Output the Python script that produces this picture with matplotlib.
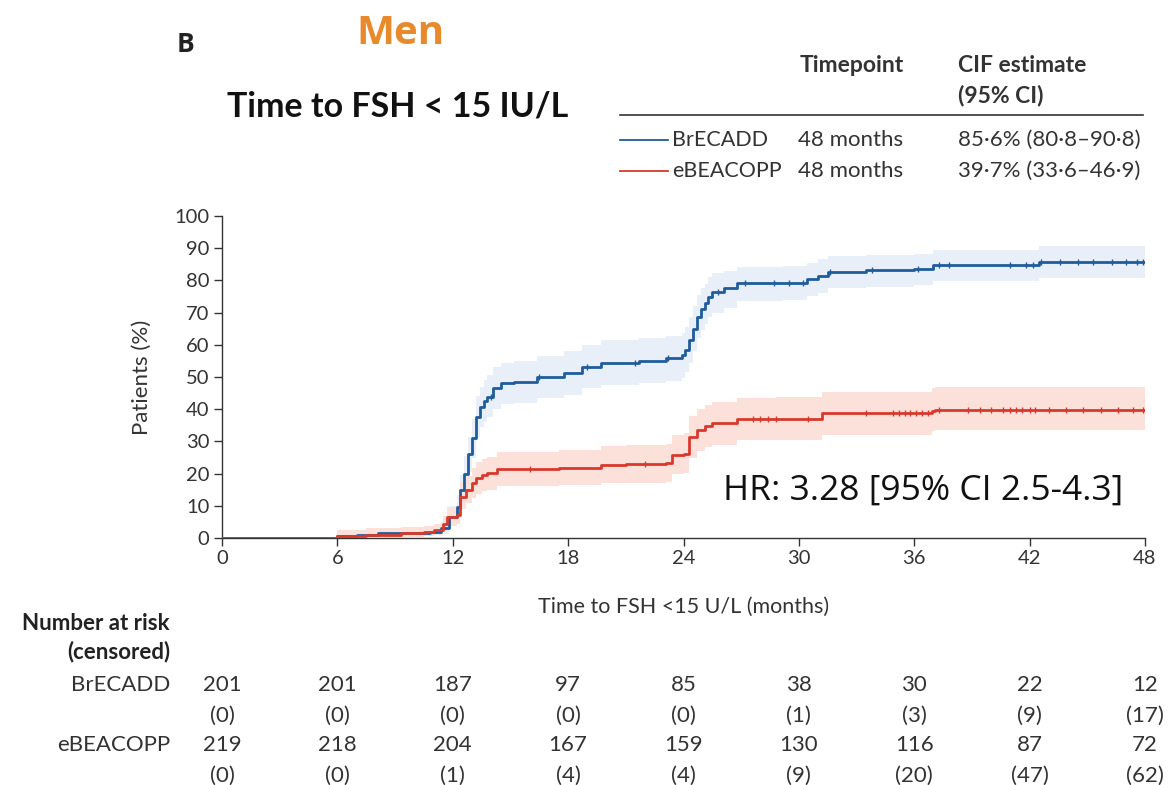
import matplotlib.pyplot as plt
import numpy as np
from matplotlib.lines import Line2D
from matplotlib.transforms import blended_transform_factory

# Cumulative incidence, BrECADD
t_br = [0, 6.0, 7.0, 8.1, 9.5, 10.8, 11.4, 11.8, 12.2, 12.4, 12.6, 12.8, 13.0, 13.2,
        13.4, 13.6, 13.8, 14.1, 14.5, 15.2, 16.4, 17.8, 18.7, 19.7, 21.7, 23.1, 23.9,
        24.1, 24.3, 24.5, 24.7, 24.9, 25.1, 25.3, 25.5, 26.1, 26.8, 29.2, 30.4, 31.0,
        31.5, 33.5, 36.0, 37.0, 42.5, 48.0]
cif_br = [0, 0.5, 1.0, 1.4, 1.7, 2.0, 3.0, 6.6, 9.7, 14.9, 20.0, 26.0, 31.0, 37.7,
          40.8, 42.5, 43.9, 46.5, 48.0, 48.6, 50.1, 51.3, 53.2, 54.5, 55.0, 55.8, 56.8,
          58.5, 61.5, 65.0, 68.7, 71.0, 72.9, 75.0, 76.5, 77.5, 79.1, 79.3, 80.3, 81.5,
          82.7, 83.2, 83.5, 84.8, 85.6, 85.6]
lo_br = [0, 0.0, 0.2, 0.4, 0.6, 0.8, 1.2, 3.8, 6.2, 10.5, 15.0, 20.5, 25.0, 31.5,
         34.5, 36.0, 37.5, 40.0, 41.5, 42.0, 43.5, 44.5, 46.5, 47.5, 48.0, 48.8, 49.8,
         51.5, 54.5, 58.0, 62.0, 64.5, 66.5, 68.5, 70.0, 71.5, 73.5, 74.0, 75.0, 76.0,
         77.5, 78.0, 78.5, 79.8, 80.8, 80.8]
hi_br = [0, 1.5, 2.5, 3.0, 3.4, 3.8, 5.0, 10.0, 13.5, 19.5, 25.5, 31.5, 37.0, 44.0,
         47.0, 49.0, 50.5, 53.0, 54.5, 55.0, 56.5, 58.0, 60.0, 61.5, 62.0, 62.8, 63.8,
         65.5, 68.5, 72.0, 75.5, 77.5, 79.0, 81.0, 82.3, 83.0, 84.3, 84.5, 85.5, 86.5,
         87.5, 88.0, 88.3, 89.5, 90.8, 90.8]
cens_br = [14.0, 16.5, 19.0, 21.5, 23.2, 25.8, 27.2, 28.7, 29.5, 30.2, 31.6, 33.8, 36.2,
           37.3, 37.8, 41.0, 41.8, 42.2, 42.6, 43.6, 44.5, 45.3, 46.3, 47.0, 47.6, 47.9]

# Cumulative incidence, eBEACOPP
t_eb = [0, 6.0, 7.5, 9.3, 10.5, 11.0, 11.5, 11.7, 12.2, 12.4, 12.7, 13.0, 13.2, 13.5,
        13.8, 14.3, 17.5, 19.7, 21.0, 23.1, 23.4, 24.0, 24.3, 24.7, 25.1, 25.5, 26.8,
        28.8, 31.2, 36.9, 37.1, 48.0]
cif_eb = [0, 0.5, 1.0, 1.4, 1.9, 2.4, 4.5, 6.6, 7.1, 12.8, 14.9, 17.0, 18.5, 19.5,
          20.1, 21.3, 21.8, 22.7, 22.9, 23.2, 25.8, 26.2, 31.5, 33.5, 34.8, 35.6, 36.9,
          37.1, 38.7, 39.4, 39.7, 39.7]
lo_eb = [0, 0.0, 0.2, 0.4, 0.7, 1.0, 2.3, 3.8, 4.2, 9.0, 10.8, 12.5, 13.8, 14.6,
         15.0, 16.0, 16.4, 17.0, 17.2, 17.5, 19.8, 20.2, 25.0, 27.0, 28.3, 29.0, 30.3,
         30.5, 32.0, 33.3, 33.6, 33.6]
hi_eb = [0, 2.5, 3.0, 3.3, 3.7, 4.2, 6.8, 9.5, 10.2, 17.0, 19.2, 21.8, 23.5, 24.6,
         25.3, 26.8, 27.3, 28.6, 28.8, 29.2, 32.0, 32.5, 38.0, 40.0, 41.3, 42.2, 43.5,
         43.8, 45.4, 46.6, 46.9, 46.9]
cens_eb = [16.0, 22.0, 27.6, 28.0, 28.4, 28.8, 30.5, 33.5, 34.9, 35.2, 35.5, 35.8, 36.1,
           36.4, 36.7, 37.3, 38.8, 39.4, 40.0, 40.6, 41.0, 41.3, 41.6, 42.0, 42.3, 43.0,
           43.9, 44.8, 45.7, 46.6, 47.4, 47.9]

# Number at risk table
risk_times = [0, 6, 12, 18, 24, 30, 36, 42, 48]
risk_br = [201, 201, 187, 97, 85, 38, 30, 22, 12]
cens_n_br = [0, 0, 0, 0, 0, 1, 3, 9, 17]
risk_eb = [219, 218, 204, 167, 159, 130, 116, 87, 72]
cens_n_eb = [0, 0, 1, 4, 4, 9, 20, 47, 62]

BLUE = "#1f5c9c"
RED = "#d8392c"
TXT = "#333333"
W, H = 1168, 785
FS = 16

plt.rcParams['font.family'] = ['Lato', 'DejaVu Sans']

fig = plt.figure(figsize=(W / 100, H / 100), dpi=100)
ax = fig.add_axes([222 / W, 1 - 538 / H, (1145 - 222) / W, (538 - 216) / H])


def px(x, y):
    return x / W, 1 - y / H


def step_value(ts, vs, x):
    i = np.searchsorted(ts, x, side='right') - 1
    return np.asarray(vs)[i]


for ts, vs, lo, hi, cens, col, band in [
        (t_br, cif_br, lo_br, hi_br, cens_br, BLUE, "#e9eff9"),
        (t_eb, cif_eb, lo_eb, hi_eb, cens_eb, RED, "#fbe1d9")]:
    ax.fill_between(ts, lo, hi, step='post', color=band, lw=0, zorder=1)
    ax.step(ts, vs, where='post', color=col, lw=2.0, zorder=3)
    ax.plot(cens, step_value(ts, vs, cens), ls='none', marker='|', ms=5,
            mew=1.0, color=col, zorder=4)

ax.set_xlim(0, 48)
ax.set_ylim(0, 100)
ax.set_xticks(risk_times)
ax.set_yticks(range(0, 101, 10))
for s in ['top', 'right']:
    ax.spines[s].set_visible(False)
for s in ['left', 'bottom']:
    ax.spines[s].set_color(TXT)
    ax.spines[s].set_linewidth(1.0)
ax.tick_params(direction='out', length=6, width=1.0, colors=TXT,
               labelsize=14.5, pad=3)
ax.set_ylabel("Patients (%)", fontsize=FS, color=TXT, labelpad=16)
ax.set_xlabel("Time to FSH <15 U/L (months)", fontsize=15.5, color=TXT, labelpad=21)

ax.text(0.976, 0.148, "HR: 3.28 [95% CI 2.5-4.3]", transform=ax.transAxes,
        ha='right', va='center', fontsize=25.5, family=['Open Sans', 'DejaVu Sans'],
        color='#111111')

# Headings
fig.text(*px(177, 45), "B", fontsize=19, fontweight='bold', va='center',
         family=['Open Sans', 'DejaVu Sans'], color='#222222')
fig.text(*px(400, 33), "Men", fontsize=29, fontweight='bold', ha='center',
         va='center', family=['Open Sans', 'DejaVu Sans'], color='#e8892b')
fig.text(*px(398, 107), "Time to FSH < 15 IU/L", fontsize=24.5, fontweight='bold',
         ha='center', va='center', color='#111111')

# Legend table
fig.text(*px(800, 65), "Timepoint", fontsize=16.5, fontweight='bold', va='center', color=TXT)
fig.text(*px(958, 65), "CIF estimate", fontsize=16.5, fontweight='bold', va='center', color=TXT)
fig.text(*px(958, 95), "(95% CI)", fontsize=16.5, fontweight='bold', va='center', color=TXT)
fig.add_artist(Line2D([620 / W, 1143 / W], [1 - 115 / H] * 2, color=TXT, lw=1.2))
rows = [("BrECADD", "85·6% (80·8–90·8)", BLUE, 140),
        ("eBEACOPP", "39·7% (33·6–46·9)", RED, 171)]
for name, est, col, y in rows:
    fig.add_artist(Line2D([620 / W, 668 / W], [1 - y / H] * 2, color=col, lw=1.3))
    fig.text(*px(672, y), name, fontsize=15.5, va='center', color=TXT)
    fig.text(*px(798, y), "48 months", fontsize=FS, va='center', color=TXT)
    fig.text(*px(958, y), est, fontsize=FS, va='center', color=TXT)

# Number at risk
fig.text(*px(170, 623), "Number at risk", fontsize=FS, fontweight='bold',
         ha='right', va='center', color='#222222')
fig.text(*px(170, 652), "(censored)", fontsize=FS, fontweight='bold',
         ha='right', va='center', color='#222222')
tr = blended_transform_factory(ax.transData, fig.transFigure)
for name, n, c, y in [("BrECADD", risk_br, cens_n_br, 685),
                      ("eBEACOPP", risk_eb, cens_n_eb, 745)]:
    fig.text(*px(170, y), name, fontsize=FS, ha='right', va='center', color=TXT)
    for t, a, b in zip(risk_times, n, c):
        ax.text(t, 1 - y / H, str(a), transform=tr, fontsize=FS, ha='center',
                va='center', color=TXT, clip_on=False)
        ax.text(t, 1 - (y + 31) / H, f"({b})", transform=tr, fontsize=FS,
                ha='center', va='center', color=TXT, clip_on=False)

fig.savefig("out.png", dpi=100)
